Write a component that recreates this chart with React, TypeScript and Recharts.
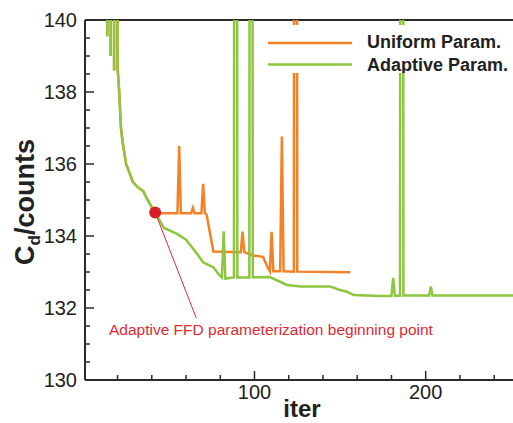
import React from 'react';
import {
  LineChart,
  Line,
  XAxis,
  YAxis,
  Legend,
  ReferenceLine,
  ReferenceDot,
} from 'recharts';

// shared history before the switch point (values > 140 are off the top of the plot)
const earlyIter = [13, 14, 15, 16, 17, 18, 19, 20, 21, 22, 23, 25, 29, 32, 35, 37, 40, 42];
const earlyCd = [200, 139.55, 200, 139.0, 200, 138.6, 200, 138.7, 138.0, 137.0, 136.6, 136.0, 135.5, 135.35, 135.25, 135.05, 134.8, 134.65];

const uniformIter = [45, 55, 56, 57, 63, 64, 65, 69, 70, 71, 72, 76, 92, 93, 94, 99, 105, 108, 109, 110, 111, 115, 116, 117, 123, 124, 125, 156];
const uniformCd = [134.63, 134.63, 136.5, 134.63, 134.63, 134.78, 134.63, 134.63, 135.45, 134.63, 134.6, 133.57, 133.55, 134.12, 133.55, 133.46, 133.42, 133.1, 133.02, 134.12, 133.02, 133.02, 136.76, 133.02, 133.01, 200, 133.01, 132.99];

const adaptiveIter = [47, 55, 60, 65, 70, 76, 79, 81, 82, 83, 88, 89, 90, 97, 98, 99, 109, 119, 127, 144, 150, 154, 158, 173, 180, 181, 182, 185, 186, 187, 202, 203, 204, 251];
const adaptiveCd = [134.23, 134.05, 133.9, 133.6, 133.27, 133.13, 132.94, 132.85, 134.13, 132.82, 132.85, 200, 132.85, 132.85, 200, 132.85, 132.86, 132.64, 132.6, 132.6, 132.5, 132.45, 132.36, 132.33, 132.33, 132.84, 132.34, 132.34, 200, 132.35, 132.35, 132.6, 132.35, 132.35];

const seriesNames = ['Uniform Param.', 'Adaptive Param.'];

const xTicks = [20, 40, 60, 80, 100, 120, 140, 160, 180, 200, 220, 240];
const yTicks = [130, 130.5, 131, 131.5, 132, 132.5, 133, 133.5, 134, 134.5, 135, 135.5, 136, 136.5, 137, 137.5, 138, 138.5, 139, 139.5, 140];

const switchPoint = { iter: 42, cd: 134.65 };
const noteLineEnd = { iter: 66, cd: 131.72 };
const noteAnchor = { iter: 15, cd: 131.25 };
const noteText = 'Adaptive FFD parameterization beginning point';

const toRows = (its: number[], vals: number[]) => its.map((iter, i) => ({ iter, cd: vals[i] }));
const early = toRows(earlyIter, earlyCd);
const uniformData = [...early, ...toRows(uniformIter, uniformCd)];
const adaptiveData = [...early, ...toRows(adaptiveIter, adaptiveCd)];

const FONT = '"Liberation Sans", Arial, Helvetica, sans-serif';
const AXIS = '#2b2b2b';
const ORANGE = '#F58025';
const GREEN = '#8DC63F';
const RED = '#E02A33';

function XTick(props: any) {
  const { x, y, payload } = props;
  const major = payload.value % 100 === 0;
  return (
    <g>
      <line x1={x} x2={x} y1={y} y2={y - (major ? 9 : 5)} stroke={AXIS} strokeWidth={1.5} />
      {major && (
        <text x={x} y={y + 19} textAnchor="middle" fontSize={20} fontFamily={FONT} fill="#222">
          {payload.value}
        </text>
      )}
    </g>
  );
}

function YTick(props: any) {
  const { x, y, payload } = props;
  const v = payload.value;
  const major = Number.isInteger(v) && v % 2 === 0;
  return (
    <g>
      <line x1={x} x2={x + (major ? 9 : 5)} y1={y} y2={y} stroke={AXIS} strokeWidth={1.5} />
      {major && (
        <text x={x - 8} y={y + 7} textAnchor="end" fontSize={20} fontFamily={FONT} fill="#222">
          {v}
        </text>
      )}
    </g>
  );
}

function renderLegend(props: any) {
  const items = [...(props.payload || [])].sort(
    (a: any, b: any) => seriesNames.indexOf(a.value) - seriesNames.indexOf(b.value)
  );
  return (
    <svg width={251} height={48} style={{ display: 'block' }}>
      <rect x={0} y={0} width={251} height={48} fill="#fff" />
      {items.map((it: any, i: number) => (
        <g key={it.value}>
          <line x1={6} x2={90} y1={18 + i * 21.5} y2={18 + i * 21.5} stroke={it.color} strokeWidth={2.5} />
          <text x={105} y={23 + i * 22.5} fontSize={18} fontWeight="bold" fontFamily={FONT} fill="#222">
            {it.value}
          </text>
        </g>
      ))}
    </svg>
  );
}

export default function App() {
  return (
    <div style={{ position: 'absolute', left: 0, top: 0, width: 513, height: 423, background: '#fff' }}>
      <LineChart width={513} height={423} margin={{ top: 20, right: 0, bottom: 0, left: 0 }}>
        <XAxis
          dataKey="iter"
          type="number"
          domain={[1, 251]}
          ticks={xTicks}
          interval={0}
          allowDataOverflow
          height={43}
          tickSize={0}
          tickMargin={0}
          tickLine={false}
          axisLine={{ stroke: AXIS, strokeWidth: 2 }}
          tick={<XTick />}
          label={(p: any) => (
            <text
              x={p.viewBox.x + p.viewBox.width / 2 + 3}
              y={p.viewBox.y + 37}
              textAnchor="middle"
              fontSize={24}
              fontWeight="bold"
              fontFamily={FONT}
              fill="#222"
            >
              iter
            </text>
          )}
        />
        <YAxis
          type="number"
          domain={[130, 140]}
          ticks={yTicks}
          interval={0}
          allowDataOverflow
          width={85}
          tickSize={0}
          tickMargin={0}
          tickLine={false}
          axisLine={{ stroke: AXIS, strokeWidth: 2 }}
          tick={<YTick />}
          label={(p: any) => {
            const cx = 34;
            const cy = p.viewBox.y + p.viewBox.height / 2 + 2;
            return (
              <text
                x={cx}
                y={cy}
                transform={`rotate(-90 ${cx} ${cy})`}
                textAnchor="middle"
                fontSize={27}
                fontWeight="bold"
                fontFamily={FONT}
                fill="#222"
              >
                C<tspan fontSize={17} dy={6}>d</tspan>
                <tspan dy={-6}>/counts</tspan>
              </text>
            );
          }}
        />
        <ReferenceLine y={140} stroke={AXIS} strokeWidth={2} />
        <Line
          data={uniformData}
          dataKey="cd"
          name={seriesNames[0]}
          stroke={ORANGE}
          strokeWidth={2.5}
          dot={false}
          isAnimationActive={false}
        />
        <Line
          data={adaptiveData}
          dataKey="cd"
          name={seriesNames[1]}
          stroke={GREEN}
          strokeWidth={2.5}
          dot={false}
          isAnimationActive={false}
        />
        <ReferenceLine
          segment={[
            { x: switchPoint.iter, y: switchPoint.cd },
            { x: noteLineEnd.iter, y: noteLineEnd.cd },
          ]}
          stroke={RED}
          strokeWidth={1}
        />
        <ReferenceDot x={switchPoint.iter} y={switchPoint.cd} r={6} fill="#D71F26" stroke="none" />
        <ReferenceDot
          x={noteAnchor.iter}
          y={noteAnchor.cd}
          r={0}
          fill="none"
          stroke="none"
          label={(p: any) => (
            <text x={p.viewBox.x} y={p.viewBox.y} fontSize={15.5} fontFamily={FONT} fill={RED}>
              {noteText}
            </text>
          )}
        />
        <Legend
          content={renderLegend}
          wrapperStyle={{ position: 'absolute', top: 25, left: 262, width: 251, height: 0, overflow: 'visible' }}
        />
      </LineChart>
    </div>
  );
}
